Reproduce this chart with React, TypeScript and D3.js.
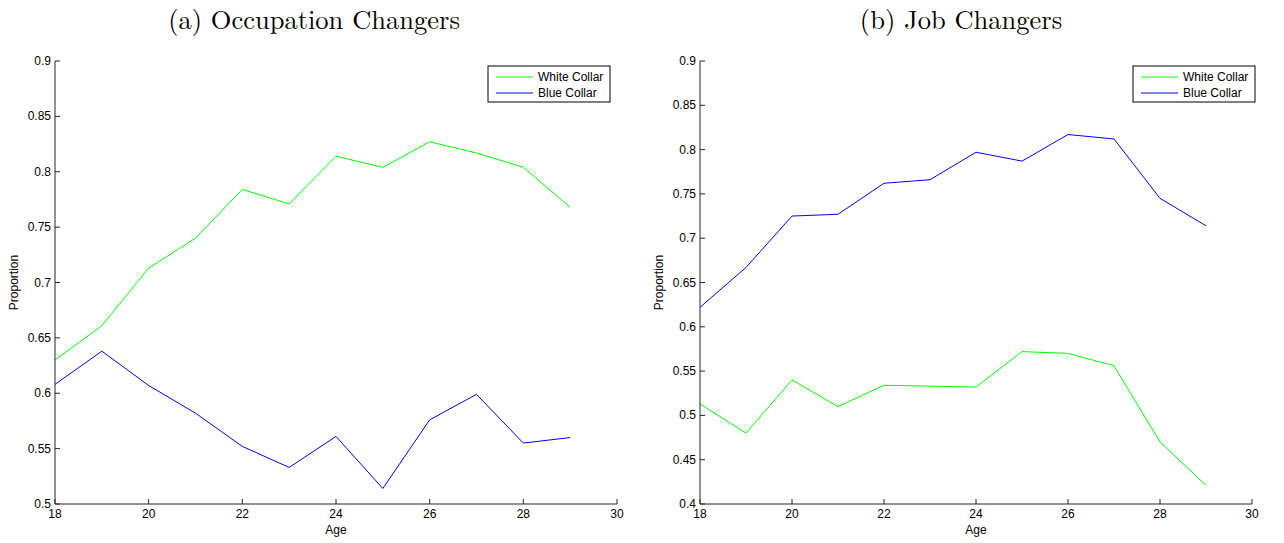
import React from "react";
import * as d3 from "d3";

const ages = [18, 19, 20, 21, 22, 23, 24, 25, 26, 27, 28, 29];
const occWhite = [0.630, 0.661, 0.713, 0.740, 0.784, 0.771, 0.814, 0.804, 0.827, 0.817, 0.804, 0.768];
const occBlue = [0.608, 0.638, 0.607, 0.582, 0.552, 0.533, 0.561, 0.514, 0.576, 0.599, 0.555, 0.560];
const jobWhite = [0.513, 0.480, 0.540, 0.510, 0.534, 0.533, 0.532, 0.572, 0.570, 0.556, 0.470, 0.421];
const jobBlue = [0.622, 0.667, 0.725, 0.727, 0.762, 0.766, 0.797, 0.787, 0.817, 0.812, 0.745, 0.714];
const xTicks = [18, 20, 22, 24, 26, 28, 30];
const occYTicks = [0.5, 0.55, 0.6, 0.65, 0.7, 0.75, 0.8, 0.85, 0.9];
const jobYTicks = [0.4, 0.45, 0.5, 0.55, 0.6, 0.65, 0.7, 0.75, 0.8, 0.85, 0.9];
const seriesNames = ["White Collar", "Blue Collar"];
const seriesColors = ["#00ff00", "#0000ff"];

type PanelProps = {
  title: string;
  titleX: number;
  x0: number;
  x1: number;
  yDomain: [number, number];
  yTicks: number[];
  white: number[];
  blue: number[];
  legendX: number;
};

const font = "'Liberation Sans', Arial, Helvetica, sans-serif";

function Panel({ title, titleX, x0, x1, yDomain, yTicks, white, blue, legendX }: PanelProps) {
  const yTop = 61;
  const yBot = 504;
  const x = d3.scaleLinear().domain([18, 30]).range([x0, x1]);
  const y = d3.scaleLinear().domain(yDomain).range([yBot, yTop]);
  const line = d3
    .line<number>()
    .x((_, i) => x(ages[i]))
    .y((d) => y(d));
  const fmt = (v: number) => String(+v.toFixed(2));
  const axisColor = "#262626";
  return (
    <g>
      <text
        x={titleX}
        y={29}
        textAnchor="middle"
        fontFamily="'Latin Modern Roman', 'Liberation Serif', 'DejaVu Serif', serif"
        fontSize={26.5}
        fill="#000"
      >
        {title}
      </text>
      <path d={line(white) || ""} fill="none" stroke={seriesColors[0]} strokeWidth={1} />
      <path d={line(blue) || ""} fill="none" stroke={seriesColors[1]} strokeWidth={1} />
      <line x1={x0} x2={x0} y1={yTop} y2={yBot} stroke={axisColor} strokeWidth={1} />
      <line x1={x0} x2={x1} y1={yBot} y2={yBot} stroke={axisColor} strokeWidth={1} />
      {yTicks.map((t) => (
        <g key={"y" + t}>
          <line x1={x0} x2={x0 + 5} y1={y(t)} y2={y(t)} stroke={axisColor} />
          <text x={x0 - 4} y={y(t) + 4} textAnchor="end" fontFamily={font} fontSize={12} fill="#000">
            {fmt(t)}
          </text>
        </g>
      ))}
      {xTicks.map((t) => (
        <g key={"x" + t}>
          <line x1={x(t)} x2={x(t)} y1={yBot} y2={yBot - 5} stroke={axisColor} />
          <text x={x(t)} y={yBot + 14} textAnchor="middle" fontFamily={font} fontSize={12} fill="#000">
            {t}
          </text>
        </g>
      ))}
      <text x={(x0 + x1) / 2} y={534} textAnchor="middle" fontFamily={font} fontSize={12} fill="#000">
        Age
      </text>
      <text
        transform={`translate(${x0 - 37},${(yTop + yBot) / 2}) rotate(-90)`}
        textAnchor="middle"
        fontFamily={font}
        fontSize={12}
        fill="#000"
      >
        Proportion
      </text>
      <g transform={`translate(${legendX},66)`}>
        <rect x={0} y={0} width={122} height={36} fill="#fff" stroke="#000" strokeWidth={1} />
        {seriesNames.map((n, i) => (
          <g key={n}>
            <line x1={8} x2={45} y1={11 + i * 16} y2={11 + i * 16} stroke={seriesColors[i]} />
            <text x={50} y={15 + i * 16} fontFamily={font} fontSize={12} fill="#000">
              {n}
            </text>
          </g>
        ))}
      </g>
    </g>
  );
}

export default function App() {
  return (
    <svg
      width={1284}
      height={543}
      style={{ display: "block", position: "absolute", left: 0, top: 0 }}
    >
      <rect x={0} y={0} width={1284} height={543} fill="#fff" />
      <Panel
        title="(a) Occupation Changers"
        titleX={314}
        x0={55}
        x1={617}
        yDomain={[0.5, 0.9]}
        yTicks={occYTicks}
        white={occWhite}
        blue={occBlue}
        legendX={488}
      />
      <Panel
        title="(b) Job Changers"
        titleX={961}
        x0={700}
        x1={1252}
        yDomain={[0.4, 0.9]}
        yTicks={jobYTicks}
        white={jobWhite}
        blue={jobBlue}
        legendX={1133}
      />
    </svg>
  );
}
